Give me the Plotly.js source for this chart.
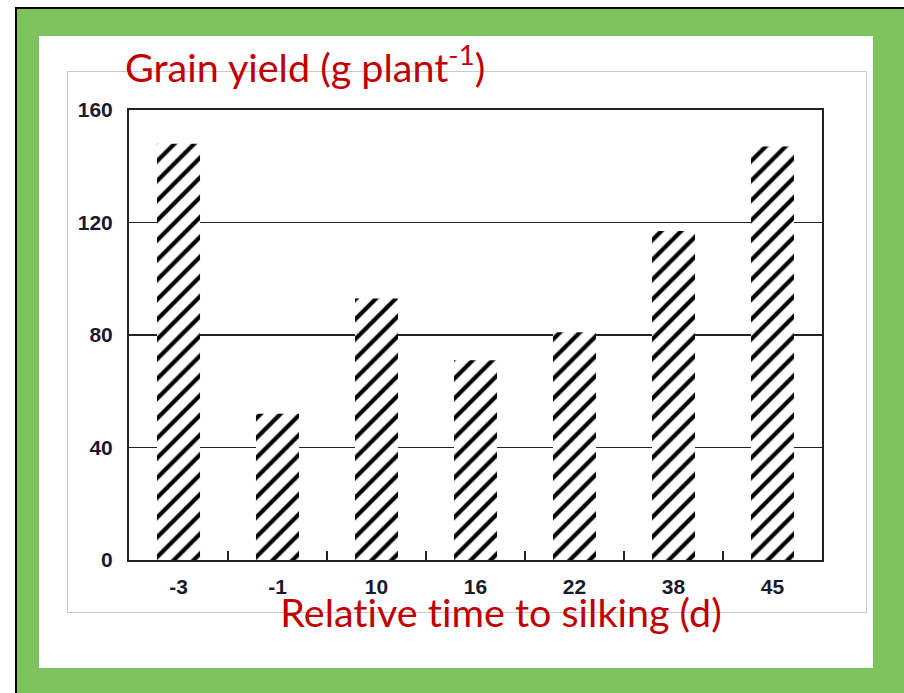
<!DOCTYPE html>
<html>
<head>
<meta charset="utf-8">
<script src="https://cdn.plot.ly/plotly-3.0.1.min.js"></script>
<style>
  html, body { margin: 0; padding: 0; background: #ffffff; width: 904px; height: 693px; overflow: hidden; }
  #frame { position: absolute; left: 15px; top: 7px; width: 889px; height: 686px; box-sizing: border-box;
           background: #7CC35C; border-left: 2px solid #000; border-top: 2px solid #000; }
  #inner { position: absolute; left: 39px; top: 36px; width: 834px; height: 632px; background: #ffffff; }
  #box { position: absolute; left: 67px; top: 71px; width: 800px; height: 542px; box-sizing: border-box;
         border: 1px solid #c8c8c8; }
  #chart { position: absolute; left: 0; top: 0; width: 904px; height: 693px; }
  #chart text, #chart tspan { font-variant-ligatures: none !important; font-feature-settings: "liga" 0, "clig" 0, "dlig" 0 !important; }
</style>
</head>
<body>
<div id="frame"></div>
<div id="inner"></div>
<div id="box"></div>
<div id="chart"></div>
<script>
// Relative time to silking (d)
const categories = ['-3', '-1', '10', '16', '22', '38', '45'];
// Grain yield (g plant-1)
const grainYield = [148, 52, 93, 71, 81, 117, 147];
const yTickVals = [0, 40, 80, 120, 160];

const tickFont = { family: 'Liberation Sans, Arial, sans-serif', size: 21, color: '#1a1a2e', weight: 'bold' };
const titleFont = { family: 'Lato, Carlito, sans-serif', size: 39.5, color: '#C00000' };

const trace = {
  type: 'bar',
  x: categories,
  y: grainYield,
  marker: {
    color: '#ffffff',
    line: { width: 0 },
    pattern: { shape: '/', fgcolor: '#000000', bgcolor: '#ffffff', size: 14, solidity: 0.3 }
  },
  hoverinfo: 'skip'
};

const layout = {
  width: 904,
  height: 693,
  margin: { l: 128.5, r: 82, t: 110, b: 133, pad: 0 },
  paper_bgcolor: 'rgba(0,0,0,0)',
  plot_bgcolor: '#ffffff',
  showlegend: false,
  bargap: 0.565,
  xaxis: {
    type: 'category',
    categoryorder: 'array',
    categoryarray: categories,
    showgrid: false,
    showline: true,
    mirror: true,
    linecolor: '#222222',
    linewidth: 2,
    ticks: 'inside',
    tickson: 'boundaries',
    ticklen: 9,
    tickwidth: 1.5,
    tickcolor: '#222222',
    ticklabelstandoff: 7,
    tickfont: tickFont,
    zeroline: false
  },
  yaxis: {
    range: [0, 160],
    tickvals: yTickVals,
    ticktext: yTickVals.map(String),
    showgrid: true,
    gridcolor: '#222222',
    gridwidth: 1.5,
    showline: true,
    mirror: true,
    linecolor: '#222222',
    linewidth: 2,
    ticks: '',
    ticklabelstandoff: 10,
    tickfont: tickFont,
    zeroline: false
  },
  annotations: [
    {
      text: 'Grain yield (g plant<sup>-1</sup>)',
      xref: 'paper', yref: 'paper',
      x: -0.0085, y: 1.1024,
      xanchor: 'left', yanchor: 'middle',
      showarrow: false,
      font: titleFont
    },
    {
      text: 'Relative t\u200Cime to silking (d)',
      xref: 'paper', yref: 'paper',
      x: 0.5365, y: -0.1136,
      xanchor: 'center', yanchor: 'middle',
      showarrow: false,
      font: titleFont
    }
  ]
};

Plotly.newPlot('chart', [trace], layout, { displayModeBar: false, staticPlot: true });
</script>
</body>
</html>
